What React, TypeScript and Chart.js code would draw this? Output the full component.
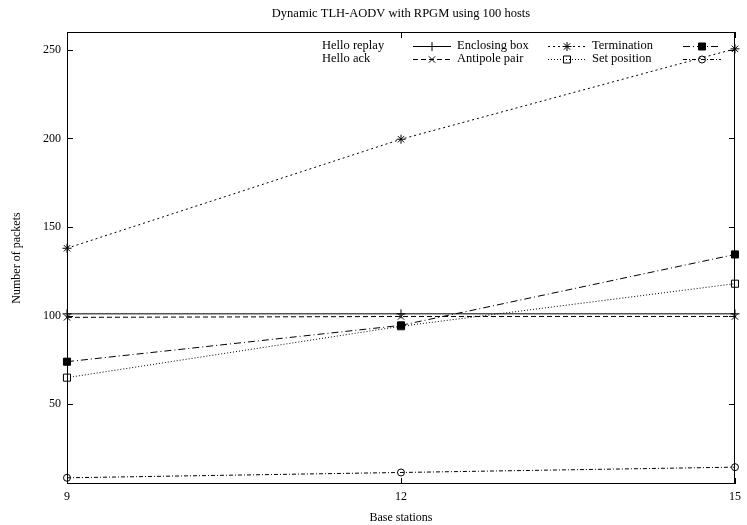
import { useEffect, useRef } from 'react';
import { Chart, registerables } from 'chart.js';

Chart.register(...registerables);

const TITLE = 'Dynamic TLH-AODV with RPGM using 100 hosts';
const X_LABEL = 'Base stations';
const Y_LABEL = 'Number of packets';

const baseStations = [9, 12, 15];
const xTicks = [9, 12, 15];
const yTicks = [50, 100, 150, 200, 250];

const seriesNames = ['Hello replay', 'Hello ack', 'Enclosing box', 'Antipole pair', 'Termination', 'Set position'];
const helloReplay = [101, 101, 101];
const helloAck = [99, 99.5, 99.5];
const enclosingBox = [138, 199.5, 250.5];
const antipolePair = [65, 94, 118];
const termination = [74, 94.5, 134.5];
const setPosition = [8.5, 11.5, 14.5];

const seriesValues = [helloReplay, helloAck, enclosingBox, antipolePair, termination, setPosition];

const FONT = 'Liberation Serif';

type Mark = 'plus' | 'cross' | 'star' | 'openSquare' | 'fillSquare' | 'openCircle';
const styles: { dash: number[]; mark: Mark }[] = [
  { dash: [], mark: 'plus' },
  { dash: [5, 3], mark: 'cross' },
  { dash: [2, 3], mark: 'star' },
  { dash: [1, 2], mark: 'openSquare' },
  { dash: [7, 3, 1, 3], mark: 'fillSquare' },
  { dash: [4, 2, 1, 2], mark: 'openCircle' },
];

const chartPointStyle: Record<Mark, any> = {
  plus: 'cross',
  cross: 'crossRot',
  star: 'star',
  openSquare: 'rect',
  fillSquare: 'rect',
  openCircle: 'circle',
};
const chartPointRadius: Record<Mark, number> = {
  plus: 4.5,
  cross: 4.5,
  star: 4.5,
  openSquare: 5,
  fillSquare: 5,
  openCircle: 3.5,
};

function drawMark(ctx: CanvasRenderingContext2D, mark: Mark, x: number, y: number) {
  ctx.save();
  ctx.setLineDash([]);
  ctx.strokeStyle = '#000';
  ctx.fillStyle = '#000';
  ctx.lineWidth = 1;
  ctx.beginPath();
  const r = 4.5;
  const d = r * Math.SQRT1_2;
  if (mark === 'plus' || mark === 'star') {
    ctx.moveTo(x - r, y); ctx.lineTo(x + r, y);
    ctx.moveTo(x, y - r); ctx.lineTo(x, y + r);
  }
  if (mark === 'cross' || mark === 'star') {
    ctx.moveTo(x - d, y - d); ctx.lineTo(x + d, y + d);
    ctx.moveTo(x - d, y + d); ctx.lineTo(x + d, y - d);
  }
  if (mark === 'openSquare') ctx.rect(x - 3.5, y - 3.5, 7, 7);
  if (mark === 'fillSquare') { ctx.rect(x - 3.5, y - 3.5, 7, 7); ctx.fill(); }
  if (mark === 'openCircle') ctx.arc(x, y, 3.5, 0, Math.PI * 2);
  ctx.stroke();
  ctx.restore();
}

const legendTextX = [322, 457, 592];
const legendSampleX = [413, 548, 683];
const legendRowY = [46, 58.5];
const SAMPLE_LEN = 38;

const decorPlugin = {
  id: 'gnuplotDecor',
  afterDraw(chart: any) {
    const ctx: CanvasRenderingContext2D = chart.ctx;
    const { left, right, top, bottom } = chart.chartArea;
    const xs = chart.scales.x;
    const ys = chart.scales.y;
    ctx.save();
    ctx.strokeStyle = '#000';
    ctx.lineWidth = 1;
    ctx.setLineDash([]);
    // frame
    ctx.strokeRect(Math.round(left) + 0.5, Math.round(top) + 0.5, Math.round(right - left) - 1, Math.round(bottom - top) - 1);
    // inward ticks
    ctx.beginPath();
    yTicks.forEach((v) => {
      const y = Math.round(ys.getPixelForValue(v)) + 0.5;
      ctx.moveTo(left, y); ctx.lineTo(left + 6, y);
      ctx.moveTo(right, y); ctx.lineTo(right - 6, y);
    });
    xTicks.forEach((v) => {
      const x = Math.round(xs.getPixelForValue(v)) + 0.5;
      ctx.moveTo(x, bottom); ctx.lineTo(x, bottom - 6);
      ctx.moveTo(x, top); ctx.lineTo(x, top + 6);
    });
    ctx.stroke();
    // title
    ctx.fillStyle = '#000';
    ctx.font = `12.5px "${FONT}"`;
    ctx.textAlign = 'center';
    ctx.textBaseline = 'middle';
    ctx.fillText(TITLE, (left + right) / 2, 13.5);
    // legend
    ctx.textAlign = 'left';
    seriesNames.forEach((name, i) => {
      const col = Math.floor(i / 2);
      const row = i % 2;
      const y = legendRowY[row];
      ctx.fillStyle = '#000';
      ctx.fillText(name, legendTextX[col], y);
      const x0 = legendSampleX[col];
      ctx.beginPath();
      ctx.setLineDash(styles[i].dash);
      ctx.moveTo(x0, Math.round(y) + 0.5);
      ctx.lineTo(x0 + SAMPLE_LEN, Math.round(y) + 0.5);
      ctx.stroke();
      ctx.setLineDash([]);
      drawMark(ctx, styles[i].mark, x0 + SAMPLE_LEN / 2, Math.round(y) + 0.5);
    });
    ctx.restore();
  },
};

export default function App() {
  const ref = useRef<HTMLCanvasElement | null>(null);
  useEffect(() => {
    if (!ref.current) return;
    const datasets = seriesNames.map((name, i) => ({
      label: name,
      data: baseStations.map((x, j) => ({ x, y: seriesValues[i][j] })),
      borderColor: '#000',
      borderWidth: 1,
      borderDash: styles[i].dash,
      backgroundColor: styles[i].mark === 'fillSquare' ? '#000' : 'rgba(0,0,0,0)',
      pointStyle: chartPointStyle[styles[i].mark],
      pointRadius: chartPointRadius[styles[i].mark],
      pointBorderWidth: 1,
      pointBorderColor: '#000',
      pointBackgroundColor: styles[i].mark === 'fillSquare' ? '#000' : 'rgba(0,0,0,0)',
      tension: 0,
      fill: false,
      clip: false as any,
    }));
    const chart = new Chart(ref.current, {
      type: 'line',
      data: { datasets },
      options: {
        animation: false,
        responsive: false,
        devicePixelRatio: 1,
        layout: { padding: { top: 32, right: 12, bottom: 0, left: 0 } },
        plugins: {
          legend: { display: false },
          title: { display: false },
          tooltip: { enabled: false },
        },
        scales: {
          x: {
            type: 'linear',
            min: 9,
            max: 15,
            afterBuildTicks: (s: any) => { s.ticks = xTicks.map((v) => ({ value: v })); },
            afterFit: (s: any) => { s.height = 41; },
            grid: { display: false, drawTicks: false },
            border: { display: false },
            ticks: { color: '#000', font: { family: FONT, size: 12 }, padding: 6, maxRotation: 0 },
            title: { display: true, text: X_LABEL, color: '#000', font: { family: FONT, size: 12 }, padding: { top: 5, bottom: 0 } },
          },
          y: {
            type: 'linear',
            min: 5,
            max: 260,
            afterBuildTicks: (s: any) => { s.ticks = yTicks.map((v) => ({ value: v })); },
            afterFit: (s: any) => { s.width = 67; },
            grid: { display: false, drawTicks: false },
            border: { display: false },
            ticks: { color: '#000', font: { family: FONT, size: 12 }, padding: 6 },
            title: { display: true, text: Y_LABEL, color: '#000', font: { family: FONT, size: 12 }, padding: { top: 10, bottom: 0 } },
          },
        },
      },
      plugins: [decorPlugin],
    });
    return () => chart.destroy();
  }, []);
  return (
    <div style={{ position: 'absolute', left: 0, top: 0, width: 747, height: 525, background: '#fff' }}>
      <canvas ref={ref} width={747} height={525} style={{ display: 'block', width: 747, height: 525 }} />
    </div>
  );
}
